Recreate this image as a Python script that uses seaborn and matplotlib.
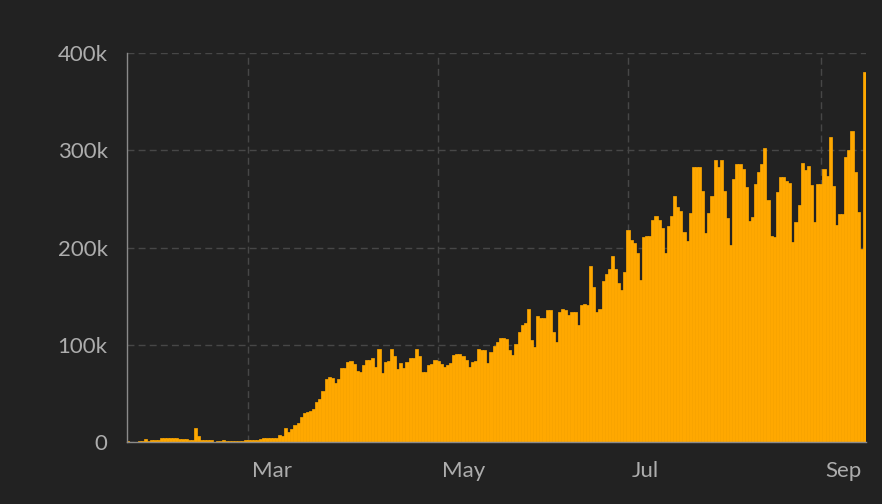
import numpy as np
import pandas as pd
import matplotlib
matplotlib.use("Agg")
import matplotlib.pyplot as plt
import matplotlib.transforms as mtransforms
import seaborn as sns

# daily new cases (thousands), one value per day from start_date
start_date = "2020-01-22"
daily_cases_k = [
    0.55, 0.1, 0.3, 0.5, 0.7, 0.8, 2.6, 0.6, 2.0, 1.7,
    2.1, 4.4, 3.8, 4.0, 3.8, 3.8, 3.8, 3.3, 2.7, 2.9,
    2.5, 2.0, 14.5, 6.2, 2.1, 2.1, 2.0, 1.9, 0.5, 0.6,
    1.0, 1.8, 0.6, 0.8, 0.9, 0.9, 1.3, 1.4, 1.8, 2.0,
    1.9, 2.4, 2.2, 2.8, 3.9, 3.9, 4.0, 3.9, 4.4, 7.5,
    6.5, 14, 10.5, 13.5, 17, 20, 26, 30, 31, 32,
    34, 41, 44, 52, 65, 67, 66, 61, 65, 76,
    76, 82, 83, 80, 73, 72, 79, 84, 84, 86,
    77, 96, 71, 82, 83, 96, 88, 75, 81, 76,
    82, 86, 86, 96, 88, 72, 72, 79, 80, 84,
    83, 80, 77, 79, 81, 89, 91, 91, 88, 84,
    77, 82, 83, 96, 95, 95, 81, 93, 99, 103,
    107, 107, 106, 95, 89, 101, 113, 120, 122, 137,
    105, 98, 130, 127, 127, 136, 136, 113, 103, 134,
    137, 136, 131, 134, 134, 120, 141, 142, 141, 181,
    159, 134, 137, 166, 173, 178, 191, 178, 163, 156,
    175, 218, 208, 205, 194, 167, 211, 212, 212, 228,
    232, 228, 220, 194, 222, 232, 253, 242, 238, 216,
    207, 235, 283, 283, 283, 258, 215, 235, 253, 290,
    283, 290, 258, 230, 203, 270, 286, 286, 281, 262,
    227, 231, 265, 278, 286, 302, 249, 212, 211, 257,
    273, 272, 268, 266, 206, 226, 244, 287, 280, 284,
    264, 226, 265, 265, 281, 274, 314, 263, 223, 234,
    234, 293, 300, 320, 278, 237, 198, 380,
]
month_ticks = ["2020-03-01", "2020-05-01", "2020-07-01", "2020-09-01"]
month_labels = ["Mar", "May", "Jul", "Sep"]
y_ticks = [0, 100000, 200000, 300000, 400000]
y_labels = ["0", "100k", "200k", "300k", "400k"]

bg = "#222222"
bar_color = "#ffa800"
grid_color = "#474747"
axis_color = "#8a8a8a"
text_color = "#adadad"

df = pd.DataFrame({
    "day": np.arange(len(daily_cases_k)),
    "cases": np.array(daily_cases_k) * 1000,
})
tick_days = [(pd.Timestamp(m) - pd.Timestamp(start_date)).days for m in month_ticks]

sns.set_style("dark", {"axes.facecolor": bg, "figure.facecolor": bg})
plt.rcParams["font.family"] = ["Lato", "DejaVu Sans"]

fig = plt.figure(figsize=(8.82, 5.04), dpi=100, facecolor=bg)
ax = fig.add_axes([127 / 882, 62 / 504, 739 / 882, 389 / 504])
ax.set_facecolor(bg)

sns.barplot(data=df, x="day", y="cases", native_scale=True, width=1,
            color=bar_color, saturation=1, errorbar=None,
            linewidth=0.5, edgecolor=bar_color, ax=ax)

ax.set_xlim(0, len(daily_cases_k) - 0.5)
ax.set_ylim(0, 400000)

ax.set_yticks(y_ticks)
ax.set_yticklabels(y_labels)
ax.set_xticks(tick_days)
ax.set_xticklabels(month_labels)

ax.set_axisbelow(True)
ax.grid(True, linestyle=(0, (5, 3)), color=grid_color, linewidth=1)

for side in ["top", "right"]:
    ax.spines[side].set_visible(False)
for side in ["left", "bottom"]:
    ax.spines[side].set_color(axis_color)
    ax.spines[side].set_linewidth(1)

ax.tick_params(axis="y", length=9, width=1, color=axis_color, pad=5,
               labelsize=16, labelcolor=text_color)
ax.tick_params(axis="x", length=7, width=1, color=axis_color, pad=7,
               labelsize=16, labelcolor=text_color)

offset = mtransforms.ScaledTranslation(4 / 100, 0, fig.dpi_scale_trans)
for lab in ax.get_xticklabels():
    lab.set_horizontalalignment("left")
    lab.set_transform(lab.get_transform() + offset)

ax.set_xlabel("")
ax.set_ylabel("")

fig.savefig("out.png", dpi=100, facecolor=bg)
